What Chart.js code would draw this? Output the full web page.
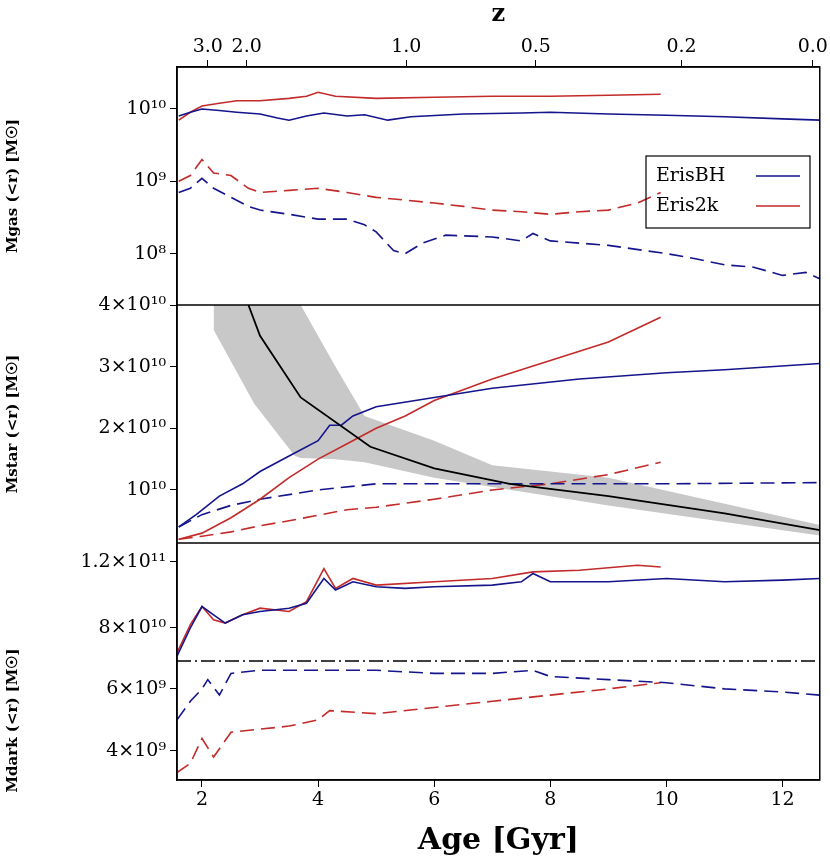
<!DOCTYPE html>
<html><head><meta charset="utf-8">
<script src="https://cdn.jsdelivr.net/npm/chart.js@4/dist/chart.umd.min.js"></script>
<style>html,body{margin:0;padding:0;background:#fff}#w{width:830px;height:859px}</style>
</head><body><div id="w"><canvas id="c"></canvas></div>
<script>
// ---- data: [age Gyr, value] ----
const gasBHsolid=[[1.6,8e9],[1.8,9e9],[2.0,1.0e10],[2.3,9.5e9],[2.6,9e9],[3.0,8.5e9],[3.3,7.5e9],[3.5,7e9],[3.8,8e9],[4.1,8.8e9],[4.5,8e9],[4.8,8.3e9],[5.2,7e9],[5.6,7.8e9],[6.5,8.5e9],[7.5,8.8e9],[8.0,9e9],[9,8.5e9],[10,8.2e9],[11,7.8e9],[12,7.3e9],[12.64,7e9]];
const gas2ksolid=[[1.6,7e9],[1.8,9e9],[2.0,1.1e10],[2.3,1.2e10],[2.6,1.3e10],[3.0,1.3e10],[3.5,1.4e10],[3.8,1.5e10],[4.0,1.7e10],[4.3,1.5e10],[5.0,1.4e10],[6,1.45e10],[7,1.5e10],[8,1.5e10],[9,1.55e10],[9.9,1.6e10]];
const gasBHdash=[[1.6,7e8],[1.8,8e8],[2.0,1.1e9],[2.2,8e8],[2.5,6e8],[2.8,4.5e8],[3.0,4e8],[3.5,3.5e8],[4.0,3e8],[4.5,3e8],[4.8,2.5e8],[5.0,2e8],[5.3,1.1e8],[5.5,1e8],[5.8,1.4e8],[6.2,1.8e8],[7.0,1.7e8],[7.5,1.5e8],[7.7,1.9e8],[8.0,1.5e8],[9.0,1.3e8],[10,1.0e8],[10.5,8.5e7],[11,7e7],[11.5,6.5e7],[12,5e7],[12.4,5.5e7],[12.64,4.5e7]];
const gas2kdash=[[1.6,1e9],[1.8,1.2e9],[2.0,2e9],[2.2,1.3e9],[2.5,1.2e9],[2.8,8e8],[3.0,7e8],[3.5,7.5e8],[4.0,8e8],[4.5,7e8],[5.0,6e8],[5.5,5.5e8],[6.0,5e8],[6.5,4.5e8],[7.0,4e8],[7.5,3.8e8],[8.0,3.5e8],[8.5,3.8e8],[9.0,4e8],[9.5,5e8],[9.9,7e8]];
const starBHsolid=[[1.6,0.4],[1.9,0.6],[2.3,0.9],[2.7,1.1],[3.0,1.3],[3.5,1.55],[4.0,1.8],[4.2,2.05],[4.4,2.05],[4.6,2.2],[5.0,2.35],[6,2.5],[7,2.65],[8.5,2.8],[10,2.9],[11,2.95],[12.64,3.05]];
const star2ksolid=[[1.6,0.2],[2.0,0.3],[2.5,0.55],[3.0,0.85],[3.5,1.2],[4.0,1.5],[4.5,1.75],[5.0,2.0],[5.5,2.2],[6.0,2.45],[7.0,2.8],[8.0,3.1],[9.0,3.4],[9.9,3.8]];
const starBHdash=[[1.6,0.4],[2.0,0.6],[2.5,0.75],[3.0,0.85],[4.0,1.0],[5.0,1.1],[6,1.1],[8,1.1],[10,1.1],[12.64,1.12]];
const star2kdash=[[1.6,0.2],[2.0,0.25],[2.5,0.32],[3.0,0.42],[3.5,0.5],[4.5,0.68],[5.0,0.72],[6.0,0.85],[7.0,1.0],[8.0,1.1],[9.0,1.25],[9.9,1.45]];
const starSim=[[2.8,4.0],[3.0,3.5],[3.7,2.5],[4.9,1.7],[6.0,1.35],[7.3,1.1],[9.0,0.9],[11.0,0.62],[12.64,0.35]];
const bandAge=[2.2,2.9,3.6,3.7,4.3,4.8,6.0,7.0,9.0,12.64];
const bandLow=[3.6,2.4,1.55,1.52,1.5,1.45,1.2,1.05,0.75,0.26];
const bandHigh=[4.5,4.5,4.1,4.0,3.0,2.2,1.8,1.4,1.2,0.43];
const dmBHsolid=[[1.57,6.3],[1.8,8.0],[2.0,9.3],[2.2,8.8],[2.4,8.3],[2.7,8.8],[3.0,9.0],[3.5,9.2],[3.8,9.5],[4.1,11.0],[4.3,10.3],[4.6,10.8],[5.0,10.5],[5.5,10.4],[6,10.5],[7,10.6],[7.5,10.8],[7.7,11.3],[8.0,10.8],[9,10.8],[10,11.0],[11,10.8],[12,10.9],[12.64,11.0]];
const dm2ksolid=[[1.57,6.5],[1.8,8.2],[2.0,9.3],[2.2,8.5],[2.4,8.3],[2.7,8.8],[3.0,9.2],[3.5,9.0],[3.8,9.6],[4.1,11.6],[4.3,10.4],[4.6,11.0],[5.0,10.6],[6,10.8],[7,11.0],[7.7,11.4],[8.5,11.5],[9.5,11.8],[9.9,11.7]];
const dmBHdash=[[1.57,5.0],[1.8,5.6],[2.0,6.0],[2.1,6.3],[2.3,5.8],[2.5,6.5],[3.0,6.6],[4.0,6.6],[5.0,6.6],[6,6.5],[7,6.5],[7.7,6.6],[8,6.4],[9,6.3],[10,6.2],[11,6.0],[12,5.9],[12.64,5.8]];
const dm2kdash=[[1.57,3.3],[1.8,3.6],[2.0,4.4],[2.2,3.8],[2.5,4.6],[3.0,4.7],[3.5,4.8],[4.0,5.0],[4.2,5.3],[5.0,5.2],[6.0,5.4],[7.0,5.6],[8.0,5.8],[9.0,6.0],[9.9,6.2]];
const zAges=[2.10,2.77,5.52,7.75,10.26,12.52];
const zLabels=['3.0','2.0','1.0','0.5','0.2','0.0'];
// -----
const BLUE='#14148c', RED='#c32a2a';
const pts=(a,s=1)=>a.map(p=>({x:p[0],y:p[1]*s}));
function ds(data,color,axis,dash){return {data,borderColor:color,borderWidth:1.6,borderDash:dash?[14,7]:[],pointRadius:0,yAxisID:axis,xAxisID:'x',fill:false,tension:0};}
const sup={'0':'⁰','1':'¹','2':'²','3':'³','4':'⁴','5':'⁵','6':'⁶','7':'⁷','8':'⁸','9':'⁹'};
const pw=n=>'10'+String(n).split('').map(c=>sup[c]).join('');
const F='DejaVu Serif';
function yax(weight,opts,title){
  return Object.assign({stack:'p',stackWeight:weight,position:'left',offset:false,
    grid:{drawOnChartArea:false,tickLength:7,color:'#000'},border:{color:'#000',width:1.5},
    ticks:{color:'#000',font:{family:F,size:19},padding:4},
    title:{display:true,text:title,color:'#000',font:{family:F,size:15,weight:'bold'}},
    afterFit:s=>{s.width=177;}},opts);
}
const blackLine=ds(pts(starSim,1e10),'#000','ys',false);
blackLine.borderWidth=1.8;
const chart=new Chart(document.getElementById('c'),{
  type:'line',
  data:{datasets:[
    ds(pts(gasBHsolid),BLUE,'yg',false),ds(pts(gas2ksolid),RED,'yg',false),
    ds(pts(gasBHdash),BLUE,'yg',true),ds(pts(gas2kdash),RED,'yg',true),
    {data:bandAge.map((a,i)=>({x:a,y:bandLow[i]*1e10})),borderWidth:0,borderColor:'rgba(0,0,0,0)',pointRadius:0,yAxisID:'ys',xAxisID:'x',fill:false,backgroundColor:'#c8c8c8'},
    {data:bandAge.map((a,i)=>({x:a,y:bandHigh[i]*1e10})),borderWidth:0,borderColor:'rgba(0,0,0,0)',pointRadius:0,yAxisID:'ys',xAxisID:'x',fill:'-1',backgroundColor:'#c8c8c8'},
    blackLine,
    ds(pts(starBHsolid,1e10),BLUE,'ys',false),ds(pts(star2ksolid,1e10),RED,'ys',false),
    ds(pts(starBHdash,1e10),BLUE,'ys',true),ds(pts(star2kdash,1e10),RED,'ys',true),
    ds(pts(dmBHsolid,1e10),BLUE,'yd',false),ds(pts(dm2ksolid,1e10),RED,'yd',false),
    ds(pts(dmBHdash,1e9),BLUE,'yd2',true),ds(pts(dm2kdash,1e9),RED,'yd2',true)
  ]},
  options:{animation:false,responsive:true,maintainAspectRatio:false,
    layout:{padding:{left:0,right:8,top:0,bottom:0}},
    plugins:{legend:{display:false},tooltip:{enabled:false},filler:{drawTime:'beforeDatasetsDraw'}},
    scales:{
      x:{type:'linear',position:'bottom',min:1.57,max:12.64,
        afterBuildTicks:s=>{s.ticks=[2,4,6,8,10,12].map(v=>({value:v}));},
        grid:{drawOnChartArea:false,tickLength:7,color:'#000'},border:{color:'#000',width:1.5},
        ticks:{color:'#000',font:{family:F,size:19},padding:2},
        title:{display:true,text:'Age [Gyr]',color:'#000',font:{family:F,size:30,weight:'bold'},padding:0},
        afterFit:s=>{s.height=79;}},
      xz:{type:'linear',position:'top',min:1.57,max:12.64,
        afterBuildTicks:s=>{s.ticks=zAges.map(v=>({value:v}));},
        grid:{drawOnChartArea:false,tickLength:7,color:'#000'},border:{color:'#000',width:1.5},
        ticks:{color:'#000',font:{family:F,size:19},padding:2,autoSkip:false,maxRotation:0,
          callback:(v,i)=>zLabels[i]},
        title:{display:true,text:'z',color:'#000',font:{family:F,size:24,weight:'bold'},padding:0},
        afterFit:s=>{s.height=67;}},
      yd2:yax(119,{type:'linear',min:3.06e9,max:6.9e9,
        afterBuildTicks:s=>{s.ticks=[4e9,6e9].map(v=>({value:v}));},
        ticks:{color:'#000',font:{family:F,size:19},padding:4,callback:v=>(v/1e9)+'×'+pw(9)}},'Mdark (<r) [M☉]'),
      yd:yax(118,{type:'linear',min:6.0e10,max:13.15e10,
        afterBuildTicks:s=>{s.ticks=[8e10,12e10].map(v=>({value:v}));},
        ticks:{color:'#000',font:{family:F,size:19},padding:4,callback:v=>(v==8e10?'8×'+pw(10):'1.2×'+pw(11))},
        title:{display:false}},''),
      ys:yax(238,{type:'linear',min:0.14e10,max:4e10,
        afterBuildTicks:s=>{s.ticks=[1e10,2e10,3e10,4e10].map(v=>({value:v}));},
        ticks:{color:'#000',font:{family:F,size:19},padding:4,callback:v=>(v==1e10?pw(10):(v/1e10)+'×'+pw(10))}},'Mstar (<r) [M☉]'),
      yg:yax(238,{type:'logarithmic',min:Math.pow(10,7.29),max:Math.pow(10,10.58),
        afterBuildTicks:s=>{s.ticks=[1e8,1e9,1e10].map(v=>({value:v}));},
        ticks:{color:'#000',font:{family:F,size:19},padding:4,callback:v=>pw(Math.round(Math.log10(v)))}},'Mgas (<r) [M☉]')
    }},
  plugins:[{id:'frame',afterDraw(c){
    const g=c.ctx,a=c.chartArea;g.save();g.strokeStyle='#000';g.lineWidth=1.5;
    g.strokeRect(a.left,a.top,a.right-a.left,a.bottom-a.top);
    const sg=c.scales.yg,ss=c.scales.ys,sd=c.scales.yd;
    [sg.bottom,ss.bottom].forEach(y=>{g.beginPath();g.moveTo(a.left,y);g.lineTo(a.right,y);g.stroke();});
    g.setLineDash([14,4,2,4]);g.beginPath();g.moveTo(a.left,sd.bottom);g.lineTo(a.right,sd.bottom);g.stroke();g.setLineDash([]);
    const lx=646,ly=156;g.lineWidth=1.2;g.strokeRect(lx,ly,164,72);
    g.font='19px "'+F+'"';g.fillStyle='#000';g.textBaseline='middle';
    g.fillText('ErisBH',lx+10,ly+20);g.fillText('Eris2k',lx+10,ly+50);
    g.lineWidth=1.6;g.strokeStyle=BLUE;g.beginPath();g.moveTo(lx+110,ly+20);g.lineTo(lx+154,ly+20);g.stroke();
    g.strokeStyle=RED;g.beginPath();g.moveTo(lx+110,ly+50);g.lineTo(lx+154,ly+50);g.stroke();
    g.restore();}}]
});
</script></body></html>
